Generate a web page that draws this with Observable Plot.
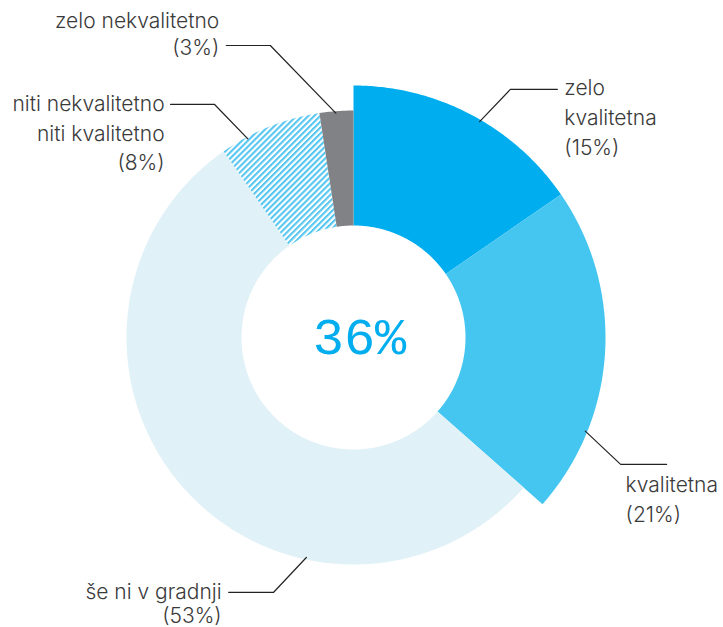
<!DOCTYPE html>
<html><head><meta charset="utf-8">
<script src="https://cdn.jsdelivr.net/npm/d3@7"></script>
<script src="https://cdn.jsdelivr.net/npm/@observablehq/plot@0.6"></script>
<style>html,body{margin:0;padding:0;background:#fff} svg{display:block}</style>
</head><body><div id="chart"></div>
<script>
// ---- data ----
const categories = ["zelo kvalitetna", "kvalitetna", "še ni v gradnji", "niti nekvalitetno niti kvalitetno", "zelo nekvalitetno"];
const categoryLines = [["zelo", "kvalitetna"], ["kvalitetna"], ["še ni v gradnji"], ["niti nekvalitetno", "niti kvalitetno"], ["zelo nekvalitetno"]];
const percentLabels = ["15%", "21%", "53%", "8%", "3%"];
const shares = [15.4, 21.1, 53.8, 7.3, 2.4];   // slice sizes
const centerValue = "36%";

// ---- style / layout ----
const W = 723, H = 627;
const cx = 353, cy = 337, rInner = 112;
const rOuter = [252, 252, 227, 227, 227];
const fills = ["#00aeef", "#45c6f1", "#e0f1f7", "url(#hatch)", "#808285"];
// leader layout: start angle, elbow angle, elbow radius, horizontal run, text offsets
const leaderStart = [30.3, 112, 192.1, 332, 355.5];
const leaderElbowAngle = [32.3, 115.4, 197.4, 329.2, 344.1];
const leaderElbowR = [293.5, 295.7, 267, 271.3, 303.6];
const leaderRun = [47, 46, -45, -44, -44];
const textDx = [7, -41, -7, -6, -7];
const textDy = [-1, 21, 0, 0, -24];
const lineH = [30, 30, 24, 29.5, 27];

const rad = d => d * Math.PI / 180;
const px = (a, r) => cx + r * Math.sin(rad(a));
const py = (a, r) => cy - r * Math.cos(rad(a));

const total = d3.sum(shares);
let acc = 0;
const slices = shares.map((s, i) => {
  const a0 = acc / total * 360; acc += s; const a1 = acc / total * 360;
  const pts = [];
  const n = Math.max(8, Math.ceil((a1 - a0) * 2));
  for (let k = 0; k <= n; k++) { const a = a0 + (a1 - a0) * k / n; pts.push({x: px(a, rOuter[i]), y: py(a, rOuter[i])}); }
  for (let k = n; k >= 0; k--) { const a = a0 + (a1 - a0) * k / n; pts.push({x: px(a, rInner), y: py(a, rInner)}); }
  return {cat: categories[i], pts, fill: fills[i]};
});

const leaders = [];
const textRows = [];
categories.forEach((c, i) => {
  const x0 = px(leaderStart[i], rOuter[i] - 2), y0 = py(leaderStart[i], rOuter[i] - 2);
  const x1 = px(leaderElbowAngle[i], leaderElbowR[i]), y1 = py(leaderElbowAngle[i], leaderElbowR[i]);
  const x2 = x1 + leaderRun[i], y2 = y1;
  leaders.push({cat: c, x: x0, y: y0}, {cat: c, x: x1, y: y1}, {cat: c, x: x2, y: y2});
  const lines = [...categoryLines[i], `(${percentLabels[i]})`];
  const right = leaderRun[i] > 0;
  lines.forEach((t, j) => textRows.push({text: t, x: x2 + textDx[i], y: y2 + textDy[i] + j * lineH[i], right}));
});

const textStyle = {fontFamily: "Inter, 'Noto Sans', sans-serif", fontSize: 21, fontWeight: 300, fill: "#3a3a3a", lineAnchor: "middle"};

const svg = Plot.plot({
  width: W, height: H, margin: 0,
  x: {domain: [0, W], range: [0, W], axis: null},
  y: {domain: [0, H], range: [0, H], axis: null},
  marks: [
    ...slices.map(s => Plot.line(s.pts, {x: "x", y: "y", fill: s.fill, stroke: "none"})),
    Plot.line(leaders, {x: "x", y: "y", z: "cat", stroke: "#222", strokeWidth: 1.2}),
    Plot.text(textRows.filter(d => d.right), {x: "x", y: "y", text: "text", textAnchor: "start", ...textStyle}),
    Plot.text(textRows.filter(d => !d.right), {x: "x", y: "y", text: "text", textAnchor: "end", ...textStyle}),
    Plot.text([centerValue], {x: () => cx + 6, y: () => cy, text: d => d, fontFamily: "'Liberation Mono', monospace", fontSize: 52, fill: "#00aeef", lineAnchor: "middle", textAnchor: "middle"})
  ]
});

const defs = d3.select(svg).insert("defs", ":first-child");
const pat = defs.append("pattern").attr("id", "hatch").attr("patternUnits", "userSpaceOnUse")
  .attr("width", 4.2).attr("height", 4.2).attr("patternTransform", "rotate(45)");
pat.append("rect").attr("width", 4.2).attr("height", 4.2).attr("fill", "#fff");
pat.append("rect").attr("width", 2.1).attr("height", 4.2).attr("fill", "#55c6f0");

document.getElementById("chart").appendChild(svg);
</script>
</body></html>
